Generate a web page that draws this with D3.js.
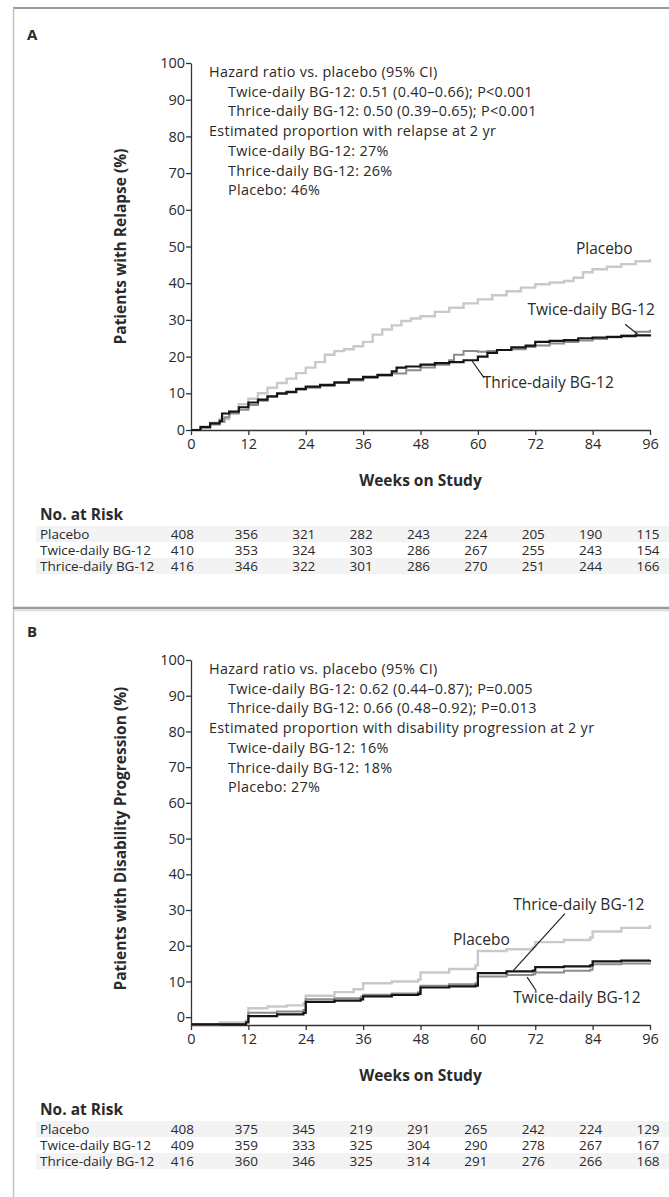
<!DOCTYPE html>
<html>
<head>
<meta charset="utf-8">
<script src="https://cdnjs.cloudflare.com/ajax/libs/d3/7.8.5/d3.min.js"></script>
<style>
  body { margin: 0; background: #fff; }
  svg text { font-family: "Open Sans", "Noto Sans", sans-serif; fill: #2a2a2a; }
</style>
</head>
<body>
<div id="chart"></div>
<script>
// ---- data ----
var weekTicks = [0, 12, 24, 36, 48, 60, 72, 84, 96];
var pctTicks = [0, 10, 20, 30, 40, 50, 60, 70, 80, 90, 100];
var groups = ["Placebo", "Twice-daily BG-12", "Thrice-daily BG-12"];

// panel A, relapse (week, %)
var relapsePlacebo = [[0,0],[2,1],[4,2],[6,3],[8,5],[10,7],[12,8.5],[14,10],[16,11.5],[18,12.8],[20,14],[22,15.5],[24,17],[26,18.5],[28,20.5],[30,21.5],[32,22],[34,22.8],[36,24],[38,26],[40,27.4],[42,28.5],[44,29.7],[46,30.4],[48,31],[51,32.2],[54,33.3],[57,34.5],[60,35.6],[63,36.7],[66,37.8],[69,38.8],[72,39.7],[75,40.2],[78,40.6],[80,41.5],[82,43],[84,43.8],[87,44.5],[90,45.2],[93,46],[96,46.6]];
var relapseTwice = [[0,0],[2,0.7],[4,1.5],[6,2.2],[7,3.5],[8,4.5],[10,5.5],[12,6.8],[14,8],[16,9],[18,9.8],[20,10.5],[22,11],[24,11.5],[27,12],[30,12.8],[33,13.5],[36,14.2],[39,14.8],[42,15.4],[45,16.3],[48,17],[51,17.8],[54,19],[55,20.5],[57,21.5],[60,21.3],[62,21.5],[64,21.8],[67,22],[70,22.6],[72,23],[75,23.6],[78,24],[81,24.4],[84,24.8],[87,25.3],[90,25.8],[93,26.8],[96,27.3]];
var relapseThrice = [[0,0],[2,0.8],[4,1.8],[6,2.5],[6.5,4.5],[8,5],[10,6.2],[12,7.5],[14,8.3],[16,9.2],[18,10],[20,10.3],[22,11.2],[24,11.8],[27,12.3],[30,13],[33,13.8],[36,14.5],[39,15],[42,16],[43,17],[45,17.3],[48,17.8],[51,18.2],[54,18.5],[57,19],[60,20],[62,21],[64,21.8],[67,22.5],[70,23],[72,24],[75,24.3],[78,24.5],[81,25],[84,25.2],[87,25.4],[90,25.6],[93,25.8],[96,26]];

// panel B, disability progression (week, %)
var progPlacebo = [[0,-2],[6,-1.5],[11.5,-1],[12,2.5],[16,3],[20,3.3],[23.5,3.8],[24,6],[30,7],[34,7.8],[36,9.5],[42,10],[47.5,10.5],[48,12.5],[54,13.5],[59.5,14.5],[60,18.5],[66,19],[71.5,19.6],[72,21],[78,21.6],[83.5,22.3],[84,24],[90,25],[96,25.8]];
var progTwice = [[0,-2],[11.5,-1.3],[12,1.2],[18,1.6],[23.5,2],[24,5],[30,5.3],[35.5,5.7],[36,6.3],[42,6.6],[47.5,7],[48,8.8],[54,9.2],[59.5,9.5],[60,11.4],[66,11.8],[71.5,12],[72,12.5],[78,13],[83.5,13.3],[84,14.8],[90,15],[96,15.3]];
var progThrice = [[0,-2],[11.5,-1.5],[12,0.3],[18,0.8],[23.5,1.2],[24,4.3],[30,4.6],[35.5,5],[36,5.8],[42,6.2],[47.5,6.5],[48,8.3],[54,8.6],[59.5,8.8],[60,12.3],[66,12.8],[71.5,13],[72,14],[78,14.2],[83.5,14.5],[84,15.6],[90,15.8],[96,16]];

// numbers at risk
var riskRelapse = [
  [408, 356, 321, 282, 243, 224, 205, 190, 115],
  [410, 353, 324, 303, 286, 267, 255, 243, 154],
  [416, 346, 322, 301, 286, 270, 251, 244, 166]
];
var riskProg = [
  [408, 375, 345, 219, 291, 265, 242, 224, 129],
  [409, 359, 333, 325, 304, 290, 278, 267, 167],
  [416, 360, 346, 325, 314, 291, 276, 266, 168]
];

var notesRelapse = [
  "Hazard ratio vs. placebo (95% CI)",
  "Twice-daily BG-12: 0.51 (0.40\u20130.66); P<0.001",
  "Thrice-daily BG-12: 0.50 (0.39\u20130.65); P<0.001",
  "Estimated proportion with relapse at 2 yr",
  "Twice-daily BG-12: 27%",
  "Thrice-daily BG-12: 26%",
  "Placebo: 46%"
];
var notesProg = [
  "Hazard ratio vs. placebo (95% CI)",
  "Twice-daily BG-12: 0.62 (0.44\u20130.87); P=0.005",
  "Thrice-daily BG-12: 0.66 (0.48\u20130.92); P=0.013",
  "Estimated proportion with disability progression at 2 yr",
  "Twice-daily BG-12: 16%",
  "Thrice-daily BG-12: 18%",
  "Placebo: 27%"
];

// ---- drawing ----
var W = 669, H = 1197;
var lineColors = ["#c9c9c9", "#8c8c8c", "#151515"];
var lineWidths = [2.4, 2, 2.2];

var svg = d3.select("#chart").append("svg")
  .attr("width", W)
  .attr("height", H);

// frame
svg.append("line").attr("x1", 13).attr("x2", W).attr("y1", 8).attr("y2", 8)
  .attr("stroke", "#9a9a9a").attr("stroke-width", 2);
svg.append("line").attr("x1", 13.5).attr("x2", 13.5).attr("y1", 8).attr("y2", H)
  .attr("stroke", "#c4c4c4").attr("stroke-width", 1.5);
svg.append("line").attr("x1", 13).attr("x2", W).attr("y1", 608).attr("y2", 608)
  .attr("stroke", "#9a9a9a").attr("stroke-width", 2.5);
svg.append("line").attr("x1", 13).attr("x2", W).attr("y1", 610.5).attr("y2", 610.5)
  .attr("stroke", "#dcdcdc").attr("stroke-width", 1.5);

var x = d3.scaleLinear().domain([0, 96]).range([191, 650]);

function drawPanel(p) {
  var y = d3.scaleLinear().domain([p.yMin, 100]).range([p.axisY, p.top]);
  var g = svg.append("g");

  g.append("text")
    .attr("x", 27).attr("y", p.letterY)
    .attr("font-size", "15px").attr("font-weight", "bold")
    .text(p.letter);

  // axes
  var yAxis = d3.axisLeft(y).tickValues(pctTicks).tickSize(5).tickSizeOuter(0).tickPadding(1);
  var gy = g.append("g").attr("transform", "translate(" + x(0) + ",0)").call(yAxis);
  var xAxis = d3.axisBottom(x).tickValues(weekTicks).tickSize(5).tickSizeOuter(0).tickPadding(4);
  var gx = g.append("g").attr("transform", "translate(0," + p.axisY + ")").call(xAxis);
  [gx, gy].forEach(function (a) {
    a.selectAll("path, line").attr("stroke", "#333").attr("stroke-width", 1.3);
    a.selectAll("text").attr("font-size", "14.5px").attr("fill", "#333")
      .style("font-family", "'Open Sans', sans-serif");
  });

  g.append("text")
    .attr("transform", "translate(121," + (y(50)) + ") rotate(-90)")
    .attr("text-anchor", "middle").attr("dy", "0.35em")
    .attr("font-size", "15.5px").attr("font-weight", "bold")
    .text(p.yTitle);

  g.append("text")
    .attr("x", (x(0) + x(96)) / 2).attr("y", p.axisY + 51)
    .attr("text-anchor", "middle").attr("dy", "0.35em")
    .attr("font-size", "15.5px").attr("font-weight", "bold")
    .text("Weeks on Study");

  // notes
  g.selectAll(".note").data(p.notes).enter().append("text")
    .attr("x", function (d, i) { return (i == 0 || i == 3) ? 209 : 228; })
    .attr("y", function (d, i) { return p.top + 9 + i * 19.7; })
    .attr("dy", "0.35em")
    .attr("font-size", "14.4px").attr("letter-spacing", "0.3px").attr("fill", "#333")
    .text(function (d) { return d; });

  // curves
  var line = d3.line()
    .x(function (d) { return x(d[0]); })
    .y(function (d) { return y(d[1]); })
    .curve(d3.curveStepAfter);
  p.series.forEach(function (s, i) {
    g.append("path")
      .datum(s)
      .attr("fill", "none")
      .attr("stroke", lineColors[i])
      .attr("stroke-width", lineWidths[i])
      .attr("d", line);
  });

  // curve labels and leaders
  p.labels.forEach(function (l) {
    g.append("text")
      .attr("x", x(l.w)).attr("y", y(l.p))
      .attr("text-anchor", l.anchor).attr("dy", "0.35em")
      .attr("font-size", "15.5px").attr("fill", "#333")
      .text(l.text);
  });
  p.leaders.forEach(function (l) {
    g.append("line")
      .attr("x1", x(l[0])).attr("y1", y(l[1]))
      .attr("x2", x(l[2])).attr("y2", y(l[3]))
      .attr("stroke", "#222").attr("stroke-width", 1.2);
  });

  // number at risk
  var t0 = p.axisY + 85;
  g.append("text")
    .attr("x", 40).attr("y", t0).attr("dy", "0.35em")
    .attr("font-size", "15.5px").attr("font-weight", "bold")
    .text("No. at Risk");
  p.risk.forEach(function (row, r) {
    var ry = t0 + 19 + r * 16;
    if (r != 1) {
      g.append("rect").attr("x", 36).attr("y", ry - 8).attr("width", W - 36).attr("height", 16)
        .attr("fill", "#f3f3f3");
    }
    g.append("text")
      .attr("x", 40).attr("y", ry).attr("dy", "0.35em")
      .attr("font-size", "13.5px").attr("fill", "#444")
      .text(groups[r]);
    g.selectAll(".n" + r).data(row).enter().append("text")
      .attr("x", function (d, i) { return i == 0 ? x(0) + 3 : x(weekTicks[i]) - 2; })
      .attr("y", ry).attr("dy", "0.35em")
      .attr("text-anchor", function (d, i) { return i == 0 ? "end" : "middle"; })
      .attr("font-size", "13.5px").attr("fill", "#444")
      .text(function (d) { return d; });
  });
}

drawPanel({
  letter: "A", letterY: 40, top: 63, axisY: 430, yMin: 0,
  yTitle: "Patients with Relapse (%)",
  notes: notesRelapse,
  series: [relapsePlacebo, relapseTwice, relapseThrice],
  risk: riskRelapse,
  labels: [
    { text: "Placebo", w: 80.5, p: 49.5, anchor: "start" },
    { text: "Twice-daily BG-12", w: 97, p: 32.7, anchor: "end" },
    { text: "Thrice-daily BG-12", w: 61, p: 12.8, anchor: "start" }
  ],
  leaders: [[90.8, 28.8, 93.5, 26], [58.8, 18.8, 61.3, 14.2]]
});

drawPanel({
  letter: "B", letterY: 637, top: 660, axisY: 1025, yMin: -2.2,
  yTitle: "Patients with Disability Progression (%)",
  notes: notesProg,
  series: [progPlacebo, progTwice, progThrice],
  risk: riskProg,
  labels: [
    { text: "Thrice-daily BG-12", w: 67.4, p: 31.4, anchor: "start" },
    { text: "Placebo", w: 54.8, p: 21.6, anchor: "start" },
    { text: "Twice-daily BG-12", w: 67.4, p: 5.4, anchor: "start" }
  ],
  leaders: [[78.2, 29, 67.4, 13], [70.3, 11.2, 72.2, 7.4]]
});
</script>
</body>
</html>
